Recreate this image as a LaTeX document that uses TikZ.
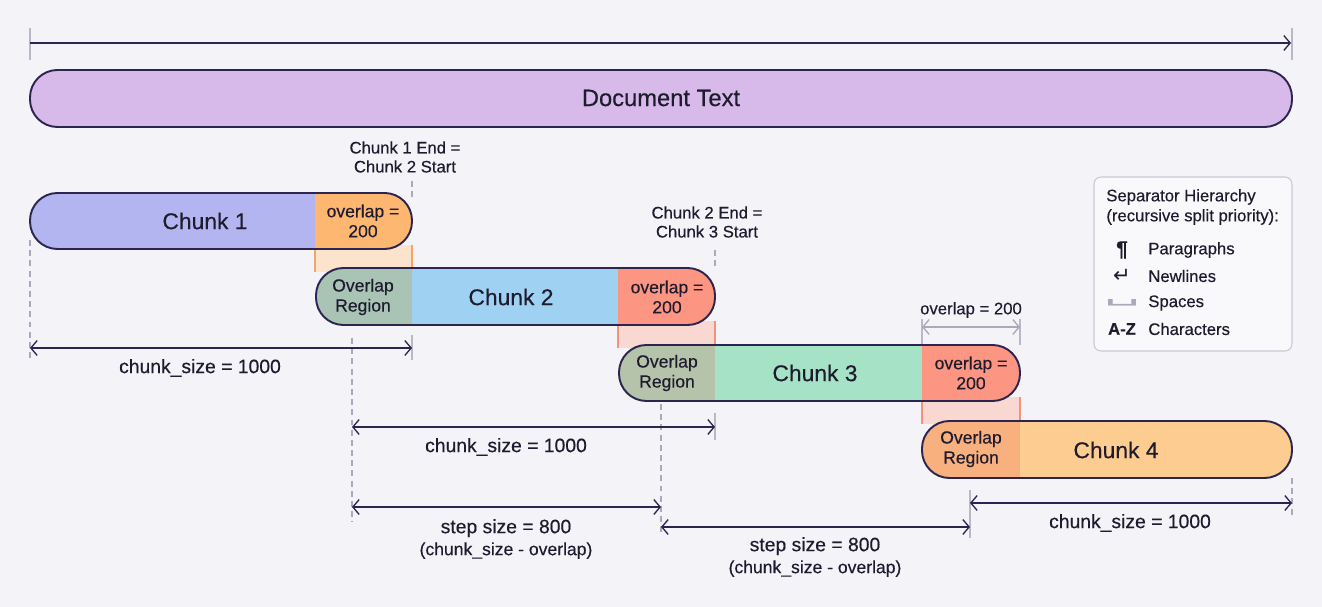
\documentclass[tikz,border=0pt]{standalone}
\usepackage{fontspec}
\setmainfont{Liberation Sans}[FakeBold=0.35]
\newfontfamily\symfont{DejaVu Sans}
\usetikzlibrary{arrows.meta}

\definecolor{bg}{HTML}{F4F3F8}
\definecolor{ink}{HTML}{2C2550}
\definecolor{txt}{HTML}{1E1B2E}
\definecolor{docfill}{HTML}{D7BAEA}
\definecolor{cone}{HTML}{B3B5F0}
\definecolor{coneov}{HTML}{FDB771}
\definecolor{ctworeg}{HTML}{A9C4B5}
\definecolor{ctwo}{HTML}{9FD1F2}
\definecolor{ctwoov}{HTML}{FC9682}
\definecolor{cthreereg}{HTML}{B5C3AA}
\definecolor{cthree}{HTML}{A6E3C6}
\definecolor{cthreeov}{HTML}{FC9682}
\definecolor{cfourreg}{HTML}{F9B07F}
\definecolor{cfour}{HTML}{FDCC90}
\definecolor{bandA}{HTML}{FCE3CC}
\definecolor{bandAedge}{HTML}{F4A466}
\definecolor{bandB}{HTML}{F9D8D2}
\definecolor{bandBedge}{HTML}{F2927F}
\definecolor{guidegray}{HTML}{A9A9B9}
\definecolor{tickgray}{HTML}{B8B8C6}
\definecolor{legfill}{HTML}{F9F9FB}
\definecolor{legdraw}{HTML}{C9C9D6}

\begin{document}
\begin{tikzpicture}[
    x=0.02cm, y=-0.02cm,
    pill/.style={rounded corners=0.55cm},
    outline/.style={draw=ink, line width=1.1pt},
    guide/.style={draw=guidegray, line width=0.6pt, dash pattern=on 3.4pt off 2.4pt},
    tickline/.style={draw=tickgray, line width=0.7pt},
    dim/.style={draw=ink, line width=0.75pt, {Straight Barb[length=3.6pt, width=8.5pt]}-{Straight Barb[length=3.6pt, width=8.5pt]}},
    chunktext/.style={text=txt, font=\fontsize{13}{15}\selectfont},
    ovtext/.style={text=txt, align=center, font=\fontsize{10}{11.4}\selectfont},
    notetext/.style={text=txt, align=center, font=\fontsize{9.5}{10.8}\selectfont},
    dimtext/.style={text=txt, align=center, font=\fontsize{11}{12.5}\selectfont},
    legtext/.style={text=txt, anchor=west, inner sep=0pt, font=\fontsize{9.5}{11}\selectfont}
]

\useasboundingbox[fill=bg] (0,0) rectangle (1322,607);

% guide lines behind the bars
\draw[guide] (30,240) -- (30,360);
\draw[guide] (412,181) -- (412,200);
\draw[guide] (352,338) -- (352,522);
\draw[guide] (715,250) -- (715,270);
\draw[guide] (661,404) -- (661,532);
\draw[guide] (1292,478) -- (1292,518);
\draw[tickline] (30,28) -- (30,60);
\draw[tickline] (1292,28) -- (1292,60);
\draw[tickline] (412,335) -- (412,360);
\draw[tickline] (715,413) -- (715,440);
\draw[tickline] (970,490) -- (970,538);
\draw[tickline] (922,319) -- (922,345);
\draw[tickline] (1020,319) -- (1020,345);

% document
\coordinate (topL) at (30,43);
\coordinate (topR) at (1291,43);
\draw[draw=ink, line width=0.75pt, -{Straight Barb[length=3.6pt, width=8.5pt]}] (topL) -- (topR);
\draw[outline, pill, fill=docfill] (30,70) rectangle (1292,127);
\node[chunktext, font=\fontsize{13.5}{15}\selectfont] (doc) at (661,98) {Document Text};

% overlap bands
\fill[bandA] (315,245) rectangle (412,272);
\draw[bandAedge, line width=0.8pt] (315,245) -- (315,272) (412,245) -- (412,272);
\fill[bandB] (618,321) rectangle (715,348);
\draw[bandBedge, line width=0.8pt] (618,321) -- (618,348) (715,321) -- (715,348);
\fill[bandB] (922,397) rectangle (1020,424);
\draw[bandBedge, line width=0.8pt] (922,397) -- (922,424) (1020,397) -- (1020,424);

% chunk 1
\begin{scope}
    \clip[pill] (30,193) rectangle (412,249);
    \fill[cone] (30,193) rectangle (315,249);
    \fill[coneov] (315,193) rectangle (412,249);
\end{scope}
\draw[outline, pill] (30,193) rectangle (412,249);

% chunk 2
\begin{scope}
    \clip[pill] (316,268) rectangle (715,325);
    \fill[ctworeg] (316,268) rectangle (412,325);
    \fill[ctwo] (412,268) rectangle (618,325);
    \fill[ctwoov] (618,268) rectangle (715,325);
\end{scope}
\draw[outline, pill] (316,268) rectangle (715,325);

% chunk 3
\begin{scope}
    \clip[pill] (619,345) rectangle (1020,401);
    \fill[cthreereg] (619,345) rectangle (715,401);
    \fill[cthree] (715,345) rectangle (922,401);
    \fill[cthreeov] (922,345) rectangle (1020,401);
\end{scope}
\draw[outline, pill] (619,345) rectangle (1020,401);

% chunk 4
\begin{scope}
    \clip[pill] (922,421) rectangle (1292,478);
    \fill[cfourreg] (922,421) rectangle (1020,478);
    \fill[cfour] (1020,421) rectangle (1292,478);
\end{scope}
\draw[outline, pill] (922,421) rectangle (1292,478);

\node[chunktext] (chunk1) at (205,221) {Chunk 1};
\node[ovtext] (ov1) at (363,221) {overlap =\\200};
\node[ovtext] (reg2) at (363,297) {Overlap\\Region};
\node[chunktext] (chunk2) at (511,297) {Chunk 2};
\node[ovtext] (ov2) at (667,297) {overlap =\\200};
\node[ovtext] (reg3) at (667,373) {Overlap\\Region};
\node[chunktext] (chunk3) at (815,373) {Chunk 3};
\node[ovtext] (ov3) at (971,373) {overlap =\\200};
\node[ovtext] (reg4) at (971,449) {Overlap\\Region};
\node[chunktext] (chunk4) at (1116,450) {Chunk 4};

\node[notetext] (end1) at (405,157) {Chunk 1 End =\\Chunk 2 Start};
\node[notetext] (end2) at (707,222) {Chunk 2 End =\\Chunk 3 Start};

% dimensions
\coordinate (ovA) at (922,327);
\coordinate (ovB) at (1020,327);
\draw[dim, draw=guidegray] (ovA) -- (ovB);
\node[notetext] (ovlab) at (971,310) {overlap = 200};

\coordinate (d1a) at (30,348);
\coordinate (d1b) at (412,348);
\draw[dim] (d1a) -- (d1b);
\node[dimtext] (d1lab) at (200,368) {chunk\_size = 1000};

\coordinate (d2a) at (352,427);
\coordinate (d2b) at (715,427);
\draw[dim] (d2a) -- (d2b);
\node[dimtext] (d2lab) at (506,447) {chunk\_size = 1000};

\coordinate (s1a) at (352,507);
\coordinate (s1b) at (661,507);
\draw[dim] (s1a) -- (s1b);
\node[dimtext] (s1lab) at (506,539) {step size = 800\\{\fontsize{10}{12.5}\selectfont (chunk\_size - overlap)}};

\coordinate (s2a) at (661,527);
\coordinate (s2b) at (970,527);
\draw[dim] (s2a) -- (s2b);
\node[dimtext] (s2lab) at (815,557) {step size = 800\\{\fontsize{10}{12.5}\selectfont (chunk\_size - overlap)}};

\coordinate (d3a) at (970,503);
\coordinate (d3b) at (1292,503);
\draw[dim] (d3a) -- (d3b);
\node[dimtext] (d3lab) at (1130,523) {chunk\_size = 1000};

% legend
\draw[draw=legdraw, fill=legfill, line width=0.6pt, rounded corners=4pt] (1094,177) rectangle (1292,351);
\node[legtext] (legtitle) at (1106,197) {Separator Hierarchy};
\node[legtext] (legsub) at (1106,217) {(recursive split priority):};
\foreach \sym/\txt/\yy/\nm in {{\textbf{\fontsize{12}{12}\selectfont ¶}}/Paragraphs/250/par, {\symfont\fontsize{12}{12}\selectfont ↵}/Newlines/276/nl, {\color{guidegray}\symfont\scalebox{3.4}[1.2]{␣}}/Spaces/303/sp, {\textbf{A-Z}}/Characters/329/az}{
    \node[text=txt, font=\fontsize{9.5}{11}\selectfont] (sym-\nm) at (1122,\yy) {\sym};
    \node[legtext] (item-\nm) at (1148,\yy) {\txt};
}

\end{tikzpicture}
\end{document}
